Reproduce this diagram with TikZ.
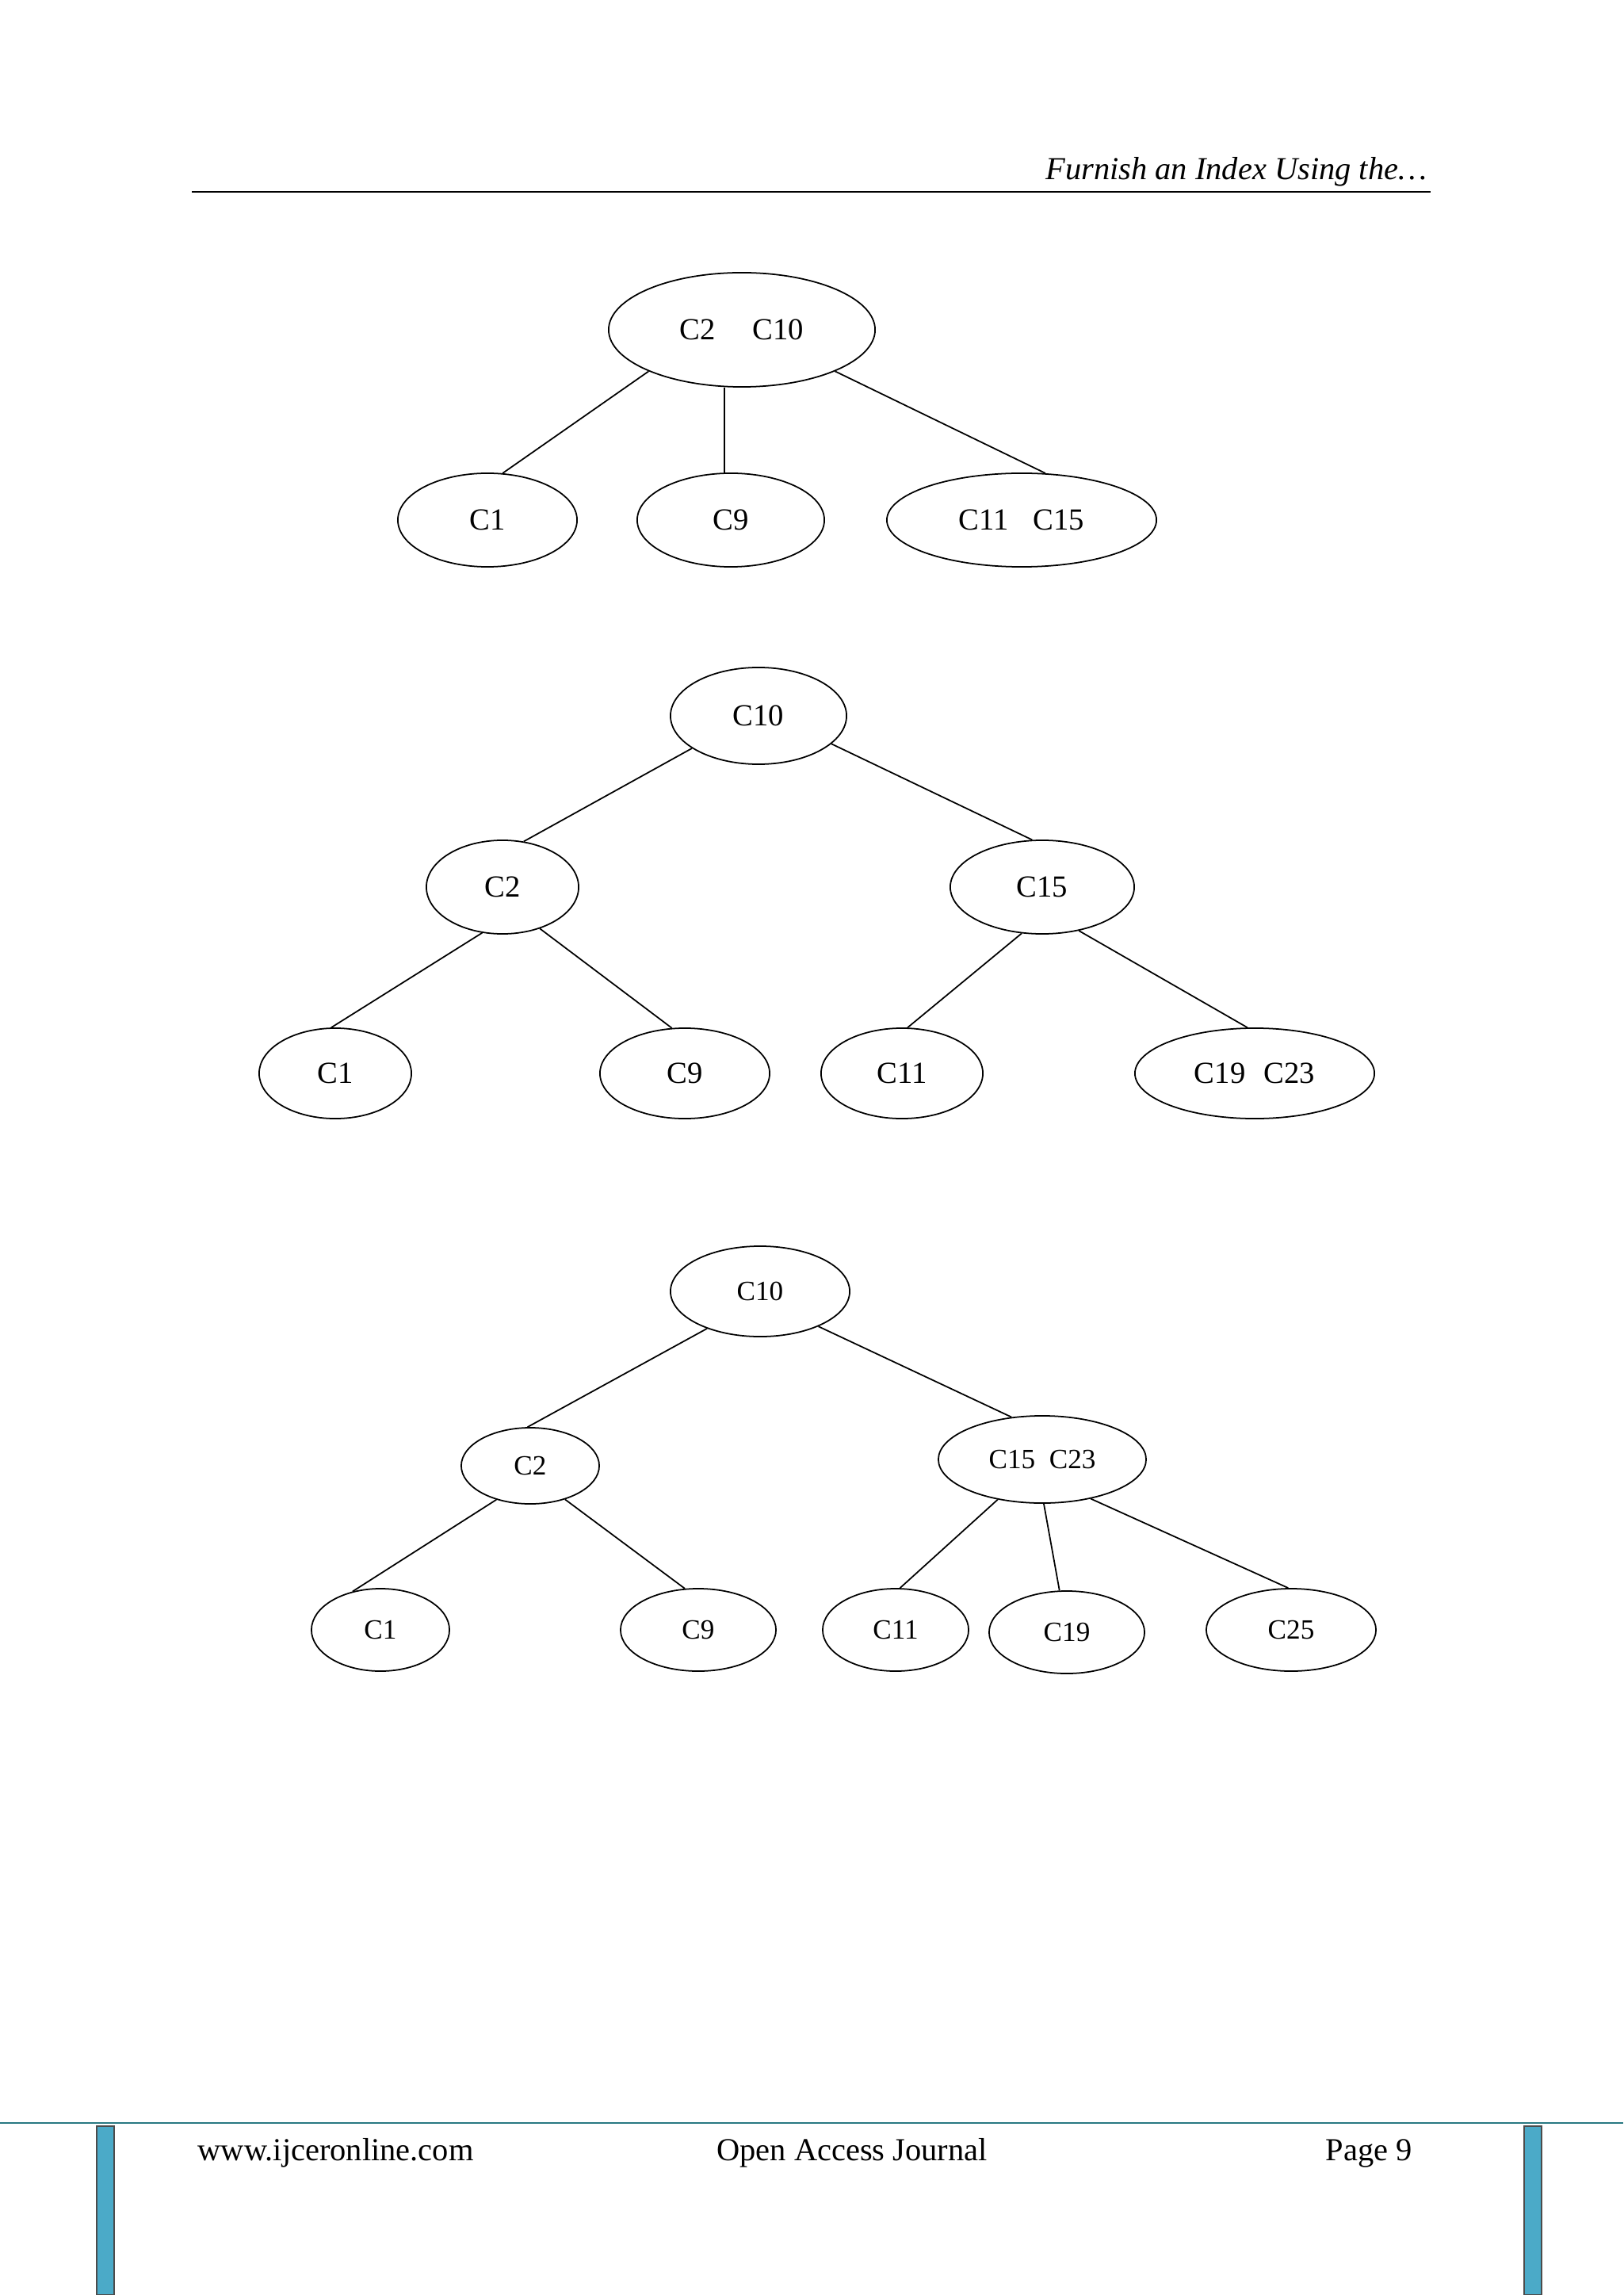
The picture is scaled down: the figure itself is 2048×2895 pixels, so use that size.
\documentclass[tikz,border=0pt]{standalone}
\usepackage{fontspec}
\setmainfont{Liberation Serif}
\usetikzlibrary{shapes.geometric}
\definecolor{barblue}{RGB}{75,170,200}
\definecolor{linet}{RGB}{40,120,130}
\begin{document}
\begin{tikzpicture}[x=0.01cm,y=-0.01cm,
 nd/.style={ellipse,draw,line width=0.5pt,inner sep=0pt,font=\fontsize{11}{13}\selectfont},
 ed/.style={line width=0.5pt}]
\useasboundingbox[fill=white] (0,0) rectangle (2048,2895);
% header
\coordinate (hl) at (242,242); \coordinate (hr) at (1805,242);
\draw[line width=0.6pt] (hl) -- (hr);
\node[anchor=base east,font=\itshape\fontsize{11.5}{14}\selectfont,inner sep=0pt] (ht) at (1801,227) {Furnish an Index Using the\dots};
% tree 1
\node[nd,minimum width=3.36cm,minimum height=1.44cm] (a0) at (936,416) {C2\hspace{1.2em}C10};
\node[nd,minimum width=2.26cm,minimum height=1.18cm] (a1) at (615,656) {C1};
\node[nd,minimum width=2.36cm,minimum height=1.18cm] (a2) at (922,656) {C9};
\node[nd,minimum width=3.40cm,minimum height=1.18cm] (a3) at (1289,656) {C11\hspace{0.8em}C15};
\coordinate (a2t) at ([xshift=-0.08cm]a2.north);
\draw[ed] (a0.204) -- (a1.72);
\draw[ed] (a0.south -| a2t) -- (a2t);
\draw[ed] (a0.336) -- (a3.63);
% tree 2
\node[nd,minimum width=2.22cm,minimum height=1.22cm] (b0) at (957,903) {C10};
\node[nd,minimum width=1.92cm,minimum height=1.18cm] (b1) at (634,1119) {C2};
\node[nd,minimum width=2.32cm,minimum height=1.18cm] (b2) at (1315,1119) {C15};
\node[nd,minimum width=1.92cm,minimum height=1.14cm] (b3) at (423,1354) {C1};
\node[nd,minimum width=2.14cm,minimum height=1.14cm] (b4) at (864,1354) {C9};
\node[nd,minimum width=2.04cm,minimum height=1.14cm] (b5) at (1138,1354) {C11};
\node[nd,minimum width=3.02cm,minimum height=1.14cm] (b6) at (1583,1354) {C19\hspace{0.6em}C23};
\draw[ed] (b0.206) -- (b1.65);
\draw[ed] (b0.339) -- (b2.102);
\draw[ed] (b1.246) -- (b3.95);
\draw[ed] (b1.312) -- (b4.106);
\draw[ed] (b2.246) -- (b5.83);
\draw[ed] (b2.310) -- (b6.99);
% tree 3
\node[nd,minimum width=2.26cm,minimum height=1.14cm,font=\fontsize{10}{12}\selectfont] (c0) at (959,1629) {C10};
\node[nd,minimum width=1.74cm,minimum height=0.96cm,font=\fontsize{10}{12}\selectfont] (c1) at (669,1849) {C2};
\node[nd,minimum width=2.62cm,minimum height=1.10cm,font=\fontsize{10}{12}\selectfont] (c2) at (1315,1841) {C15\hspace{0.5em}C23};
\node[nd,minimum width=1.74cm,minimum height=1.04cm,font=\fontsize{10}{12}\selectfont] (c3) at (480,2056) {C1};
\node[nd,minimum width=1.96cm,minimum height=1.04cm,font=\fontsize{10}{12}\selectfont] (c4) at (881,2056) {C9};
\node[nd,minimum width=1.84cm,minimum height=1.04cm,font=\fontsize{10}{12}\selectfont] (c5) at (1130,2056) {C11};
\node[nd,minimum width=1.96cm,minimum height=1.04cm,font=\fontsize{10}{12}\selectfont] (c6) at (1346,2059) {C19};
\node[nd,minimum width=2.14cm,minimum height=1.04cm,font=\fontsize{10}{12}\selectfont] (c7) at (1629,2056) {C25};
\draw[ed] (c0.215) -- (c1.94);
\draw[ed] (c0.329) -- (c2.126);
\draw[ed] (c1.225) -- (c3.126);
\draw[ed] (c1.316) -- (c4.108);
\draw[ed] (c2.222) -- (c5.84);
\draw[ed] (c2.272) -- (c6.100);
\draw[ed] (c2.321) -- (c7.94);
% footer
\coordinate (fl) at (0,2678); \coordinate (fr) at (2048,2678);
\draw[color=linet,line width=0.8pt] (fl) -- (fr);
\fill[fill=barblue,draw=black!70] (122,2682) rectangle (144,2895);
\fill[fill=barblue,draw=black!70] (1923,2682) rectangle (1945,2895);
\node[anchor=base west,inner sep=0pt,font=\fontsize{11.5}{14}\selectfont] (f1) at (249,2725) {www.ijceronline.com};
\node[anchor=base,inner sep=0pt,font=\fontsize{11.5}{14}\selectfont] (f2) at (1075,2725) {Open Access Journal};
\node[anchor=base west,inner sep=0pt,font=\fontsize{11.5}{14}\selectfont] (f3) at (1672,2725) {Page 9};
\end{tikzpicture}
\end{document}
